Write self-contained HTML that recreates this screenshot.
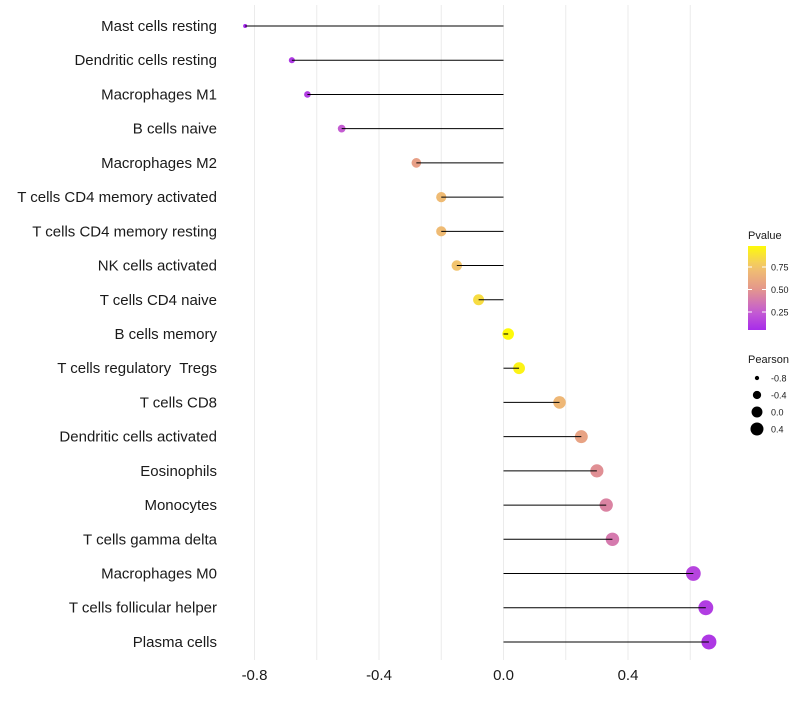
<!DOCTYPE html>
<html><head><meta charset="utf-8"><style>
body{margin:0;background:#fff;}
svg text{font-family:"Liberation Sans",Arial,sans-serif;white-space:pre;}
</style></head><body>
<svg id="chart" width="800" height="700" xmlns="http://www.w3.org/2000/svg">
<g id="grid"></g>
<g id="dots"></g>
<g id="stems"></g>
<g id="ylabels"></g>
<g id="xlabels"></g>
<g id="legend"></g>
</svg>
<script>
const categories=["Mast cells resting","Dendritic cells resting","Macrophages M1","B cells naive","Macrophages M2","T cells CD4 memory activated","T cells CD4 memory resting","NK cells activated","T cells CD4 naive","B cells memory","T cells regulatory  Tregs","T cells CD8","Dendritic cells activated","Eosinophils","Monocytes","T cells gamma delta","Macrophages M0","T cells follicular helper","Plasma cells"];
const pearson=[-0.83,-0.68,-0.63,-0.52,-0.28,-0.20,-0.20,-0.15,-0.08,0.015,0.05,0.18,0.25,0.30,0.33,0.35,0.61,0.65,0.66];
const pvalue=[0.03,0.10,0.12,0.25,0.55,0.70,0.70,0.75,0.85,0.98,0.95,0.68,0.57,0.47,0.42,0.38,0.15,0.12,0.10];
const xTicks=[-0.8,-0.4,0.0,0.4];
const xTickLabels=["-0.8","-0.4","0.0","0.4"];
const legendPvals=[0.25,0.50,0.75];
const legendPearson=[-0.8,-0.4,0.0,0.4];

const NS="http://www.w3.org/2000/svg";
const X=v=>503.5+v*311.25;
const Y=i=>26+i*34.22;
const R=v=>Math.sqrt(Math.max(1,33+34.9*v));
const stops=[[0,[160,32,240]],[0.25,[196,92,210]],[0.5,[228,150,140]],[0.75,[242,196,110]],[1,[255,255,0]]];
function col(p){p=Math.max(0,Math.min(1,p));for(let k=1;k<stops.length;k++){if(p<=stops[k][0]){const a=stops[k-1],b=stops[k],t=(p-a[0])/(b[0]-a[0]);const c=a[1].map((x,j)=>Math.round(x+(b[1][j]-x)*t));return `rgb(${c})`;}}return 'rgb(255,255,0)';}
function el(t,a,p){const e=document.createElementNS(NS,t);for(const k in a)e.setAttribute(k,a[k]);p.appendChild(e);return e;}
const grid=document.getElementById('grid');
[-0.8,-0.6,-0.4,-0.2,0,0.2,0.4,0.6].forEach(v=>{const l=el('line',{x1:X(v),x2:X(v),y1:5,y2:660,stroke:'#ebebeb','stroke-width':1},grid);

});
const stems=document.getElementById('stems'),dots=document.getElementById('dots'),yl=document.getElementById('ylabels');
categories.forEach((c,i)=>{
 const s=el('line',{x1:X(0),x2:X(pearson[i]),y1:Y(i),y2:Y(i),stroke:'#000','stroke-width':1},stems);
 
 
 const d=el('circle',{cx:X(pearson[i]),cy:Y(i),r:R(pearson[i]),fill:col(pvalue[i])},dots);
 
 
 const t=el('text',{x:217,y:Y(i)+5,'text-anchor':'end','font-size':15,fill:'#1a1a1a'},yl);
 t.textContent=c;
 
 
});
const xl=document.getElementById('xlabels');
xTicks.forEach((v,i)=>{const t=el('text',{x:X(v),y:680,'text-anchor':'middle','font-size':15,fill:'#1a1a1a'},xl);t.textContent=xTickLabels[i];

});
const lg=document.getElementById('legend');
const tt=el('text',{x:748,y:239,'font-size':11,fill:'#1a1a1a'},lg);tt.textContent='Pvalue';


const defs=el('defs',{},lg);const gr=el('linearGradient',{id:'pg',x1:0,y1:1,x2:0,y2:0},defs);
for(let k=0;k<=10;k++){const p=0.05+k*0.093;el('stop',{offset:k/10,'stop-color':col(p)},gr);}
const bar=el('rect',{x:748,y:246,width:18,height:84,fill:'url(#pg)'},lg);


legendPvals.forEach(p=>{const y=334.5-p*90;el('line',{x1:748,x2:752,y1:y,y2:y,stroke:'#fff'},lg);el('line',{x1:762,x2:766,y1:y,y2:y,stroke:'#fff'},lg);
const t=el('text',{x:771,y:y+3.5,'font-size':9,fill:'#1a1a1a'},lg);t.textContent=p.toFixed(2);

});
const pt=el('text',{x:748,y:363,'font-size':11,fill:'#1a1a1a'},lg);pt.textContent='Pearson';


legendPearson.forEach((v,i)=>{const y=378+i*17;el('circle',{cx:757,cy:y,r:R(v)*0.95,fill:'#000'},lg);
const t=el('text',{x:771,y:y+3.5,'font-size':9,fill:'#1a1a1a'},lg);t.textContent=v.toFixed(1);

});
</script>
</body></html>
